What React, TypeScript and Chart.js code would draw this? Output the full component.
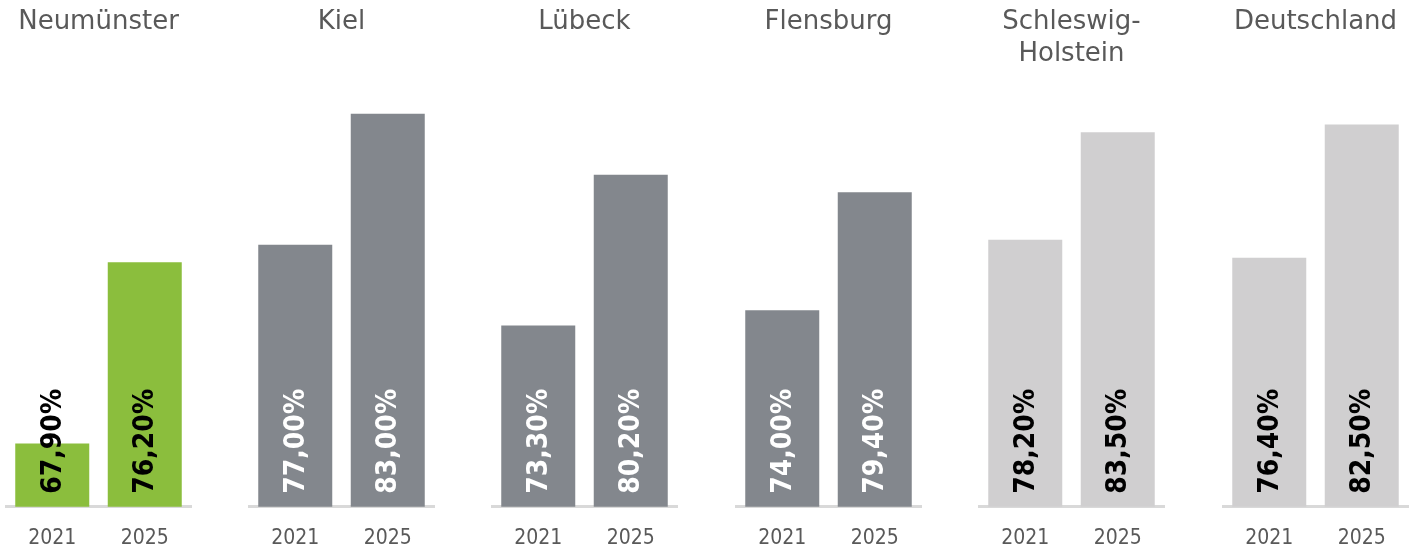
import React, { useEffect, useRef } from "react";
import { Chart, registerables } from "chart.js";

Chart.register(...registerables);

const regionTitles: string[][] = [
  ["Neumünster"],
  ["Kiel"],
  ["Lübeck"],
  ["Flensburg"],
  ["Schleswig-", "Holstein"],
  ["Deutschland"],
];
const years = ["2021", "2025"];
const values2021 = [67.9, 77.0, 73.3, 74.0, 78.2, 76.4];
const values2025 = [76.2, 83.0, 80.2, 79.4, 83.5, 82.5];

const barColors = ["#8BBE3D", "#83878D", "#83878D", "#83878D", "#D0CFD0", "#D0CFD0"];
const labelColors = ["#000000", "#FFFFFF", "#FFFFFF", "#FFFFFF", "#000000", "#000000"];

const FONT = "'DejaVu Sans', Verdana, sans-serif";
const COND = "'DejaVu Sans Condensed', 'DejaVu Sans', sans-serif";

function makeLabelPlugin(color: string) {
  return {
    id: "valueLabels",
    afterDraw(chart: any) {
      const ctx = chart.ctx as CanvasRenderingContext2D;
      const meta = chart.getDatasetMeta(0);
      const ds = chart.data.datasets[0];
      const yScale = chart.scales.y;
      meta.data.forEach((bar: any, i: number) => {
        const v = Number(ds.data[i]);
        const text = v.toFixed(2).replace(".", ",") + "%";
        const base = yScale.getPixelForValue(yScale.min);
        ctx.save();
        ctx.translate(bar.x + 1, base - 13);
        ctx.rotate(-Math.PI / 2);
        ctx.font = `bold 28px ${COND}`;
        ctx.fillStyle = color;
        ctx.textAlign = "left";
        ctx.textBaseline = "middle";
        ctx.fillText(text, 0, 0);
        ctx.restore();
      });
    },
  };
}

function Panel({ index }: { index: number }) {
  const ref = useRef<HTMLCanvasElement>(null);
  useEffect(() => {
    if (!ref.current) return;
    const chart = new Chart(ref.current, {
      type: "bar",
      data: {
        labels: years,
        datasets: [
          {
            data: [values2021[index], values2025[index]],
            backgroundColor: barColors[index],
            borderWidth: 0,
            categoryPercentage: 1,
            barPercentage: 0.8,
          },
        ],
      },
      options: {
        responsive: false,
        animation: false,
        devicePixelRatio: 1,
        layout: { padding: { left: 29, right: 29, top: 0, bottom: 0 } },
        plugins: {
          legend: { display: false },
          tooltip: { enabled: false },
          title: {
            display: true,
            text: regionTitles[index],
            color: "#595959",
            font: { family: FONT, size: 26, weight: "normal", lineHeight: "32px" },
            padding: { top: 6, bottom: 32 },
          },
        },
        scales: {
          x: {
            grid: { display: false, drawTicks: false },
            border: { display: true, color: "#D9D9D9", width: 3 },
            ticks: {
              color: "#595959",
              font: { family: COND, size: 21 },
              padding: 19,
            },
          },
          y: {
            display: false,
            min: 65,
            max: 85,
          },
        },
      },
      plugins: [makeLabelPlugin(labelColors[index])],
    });
    return () => chart.destroy();
  }, [index]);
  const center = 98 + index * 243.4;
  return (
    <canvas
      ref={ref}
      width={243}
      height={570}
      style={{ position: "absolute", left: center - 121.5, top: 0, width: 243, height: 570 }}
    />
  );
}

export default function App() {
  return (
    <div
      style={{
        position: "absolute",
        left: 0,
        top: 0,
        width: 1413,
        height: 551,
        overflow: "hidden",
        background: "#FFFFFF",
      }}
    >
      {regionTitles.map((_, i) => (
        <Panel key={i} index={i} />
      ))}
    </div>
  );
}
